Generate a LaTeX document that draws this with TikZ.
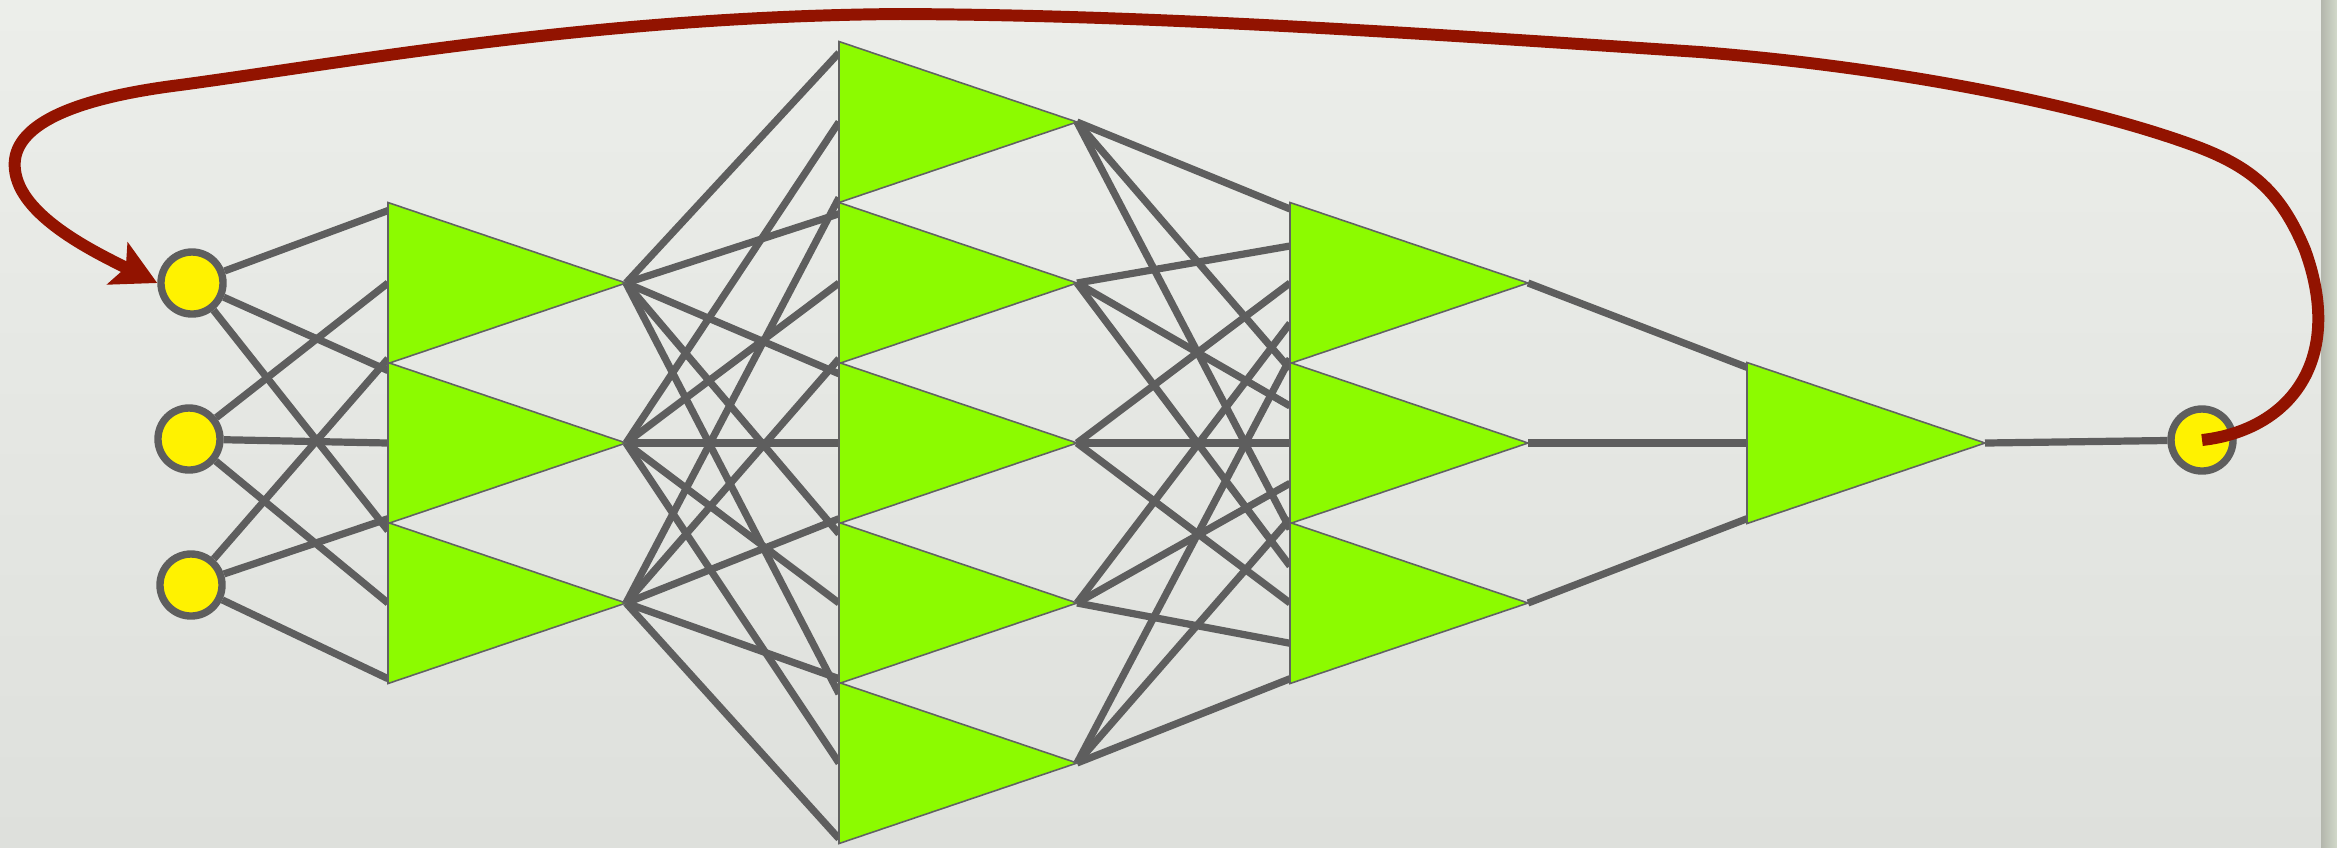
\documentclass[tikz,border=0pt]{standalone}
\usetikzlibrary{calc,arrows.meta}
\definecolor{bgtop}{HTML}{ECEEEA}
\definecolor{bgbot}{HTML}{DEE0DC}
\definecolor{wire}{HTML}{5E5E5E}
\definecolor{lime}{HTML}{8CFB00}
\definecolor{trim}{HTML}{626262}
\definecolor{feed}{HTML}{921300}
\definecolor{edgedark}{HTML}{B3B6AC}
\definecolor{edgelight}{HTML}{D2D9CA}
\pgfdeclarelayer{bg}
\pgfdeclarelayer{wires}
\pgfsetlayers{bg,wires,main}
% triangle unit: name, left x, centre y
\newcommand{\mkunit}[3]{%
  \coordinate (#1-t) at (#2,#3-80.5);
  \coordinate (#1-b) at (#2,#3+80.5);
  \coordinate (#1-p) at (#2+238,#3);
  \filldraw[unit] (#1-t) -- (#1-p) -- (#1-b) -- cycle;}
\begin{document}
\begin{tikzpicture}[x=0.01cm,y=-0.01cm,
  unit/.style={draw=trim, line width=0.45pt, fill=lime, line join=miter},
  io/.style={circle, draw=wire, fill=yellow, line width=2.1pt, minimum size=0.62cm, inner sep=0pt},
  wireline/.style={draw=wire, line width=2.05pt},
  feedback/.style={draw=feed, line width=3.4pt, -{Stealth[length=4.4mm,width=4.6mm,inset=0.9mm]}}]
\useasboundingbox (0,0) rectangle (2337,847);
\begin{pgfonlayer}{bg}
\shade[top color=bgtop, bottom color=bgbot] (0,0) rectangle (2337,847);
\shade[left color=edgedark, right color=edgelight] (2321,0) rectangle (2337,847);
\end{pgfonlayer}

% input and output units
\node[io] (in1) at (192,283) {};
\node[io] (in2) at (189,439) {};
\node[io] (in3) at (191,585) {};
\node[io] (out) at (2202,440) {};

% layers of triangles
\foreach \j/\y in {1/283,2/443,3/603} {\mkunit{a\j}{388}{\y}}
\foreach \j/\y in {1/122,2/283,3/443,4/603,5/763} {\mkunit{b\j}{839}{\y}}
\foreach \j/\y in {1/283,2/443,3/603} {\mkunit{c\j}{1290}{\y}}
\mkunit{d}{1747}{443}

\begin{pgfonlayer}{wires}
\foreach \i/\f in {1/0.05,2/0.5,3/0.97}
  \foreach \j in {1,2,3}
    \draw[wireline] (in\i) -- ($(a\j-t)!\f!(a\j-b)$);
\foreach \i/\f in {1/0.07,2/0.5,3/0.97}
  \foreach \j in {1,...,5}
    \draw[wireline] (a\i-p) -- ($(b\j-t)!\f!(b\j-b)$);
\foreach \i/\f in {1/0.04,2/0.27,3/0.5,4/0.75,5/0.97}
  \foreach \j in {1,2,3}
    \draw[wireline] (b\i-p) -- ($(c\j-t)!\f!(c\j-b)$);
\foreach \i/\f in {1/0.03,2/0.5,3/0.97}
  \draw[wireline] (c\i-p) -- ($(d-t)!\f!(d-b)$);
\draw[wireline] (d-p) -- (out);
\end{pgfonlayer}

% feedback loop
\draw[feedback] (out.center) .. controls (2290,430) and (2345,360) .. (2305,250)
  .. controls (2280,190) and (2250,165) .. (2187,143)
  .. controls (2080,105) and (1900,68) .. (1700,52)
  .. controls (1400,32) and (1150,15) .. (900,14)
  .. controls (600,16) and (350,62) .. (180,85)
  .. controls (60,100) and (10,130) .. (15,170)
  .. controls (20,215) and (90,250) .. (in1.west);
\end{tikzpicture}
\end{document}
